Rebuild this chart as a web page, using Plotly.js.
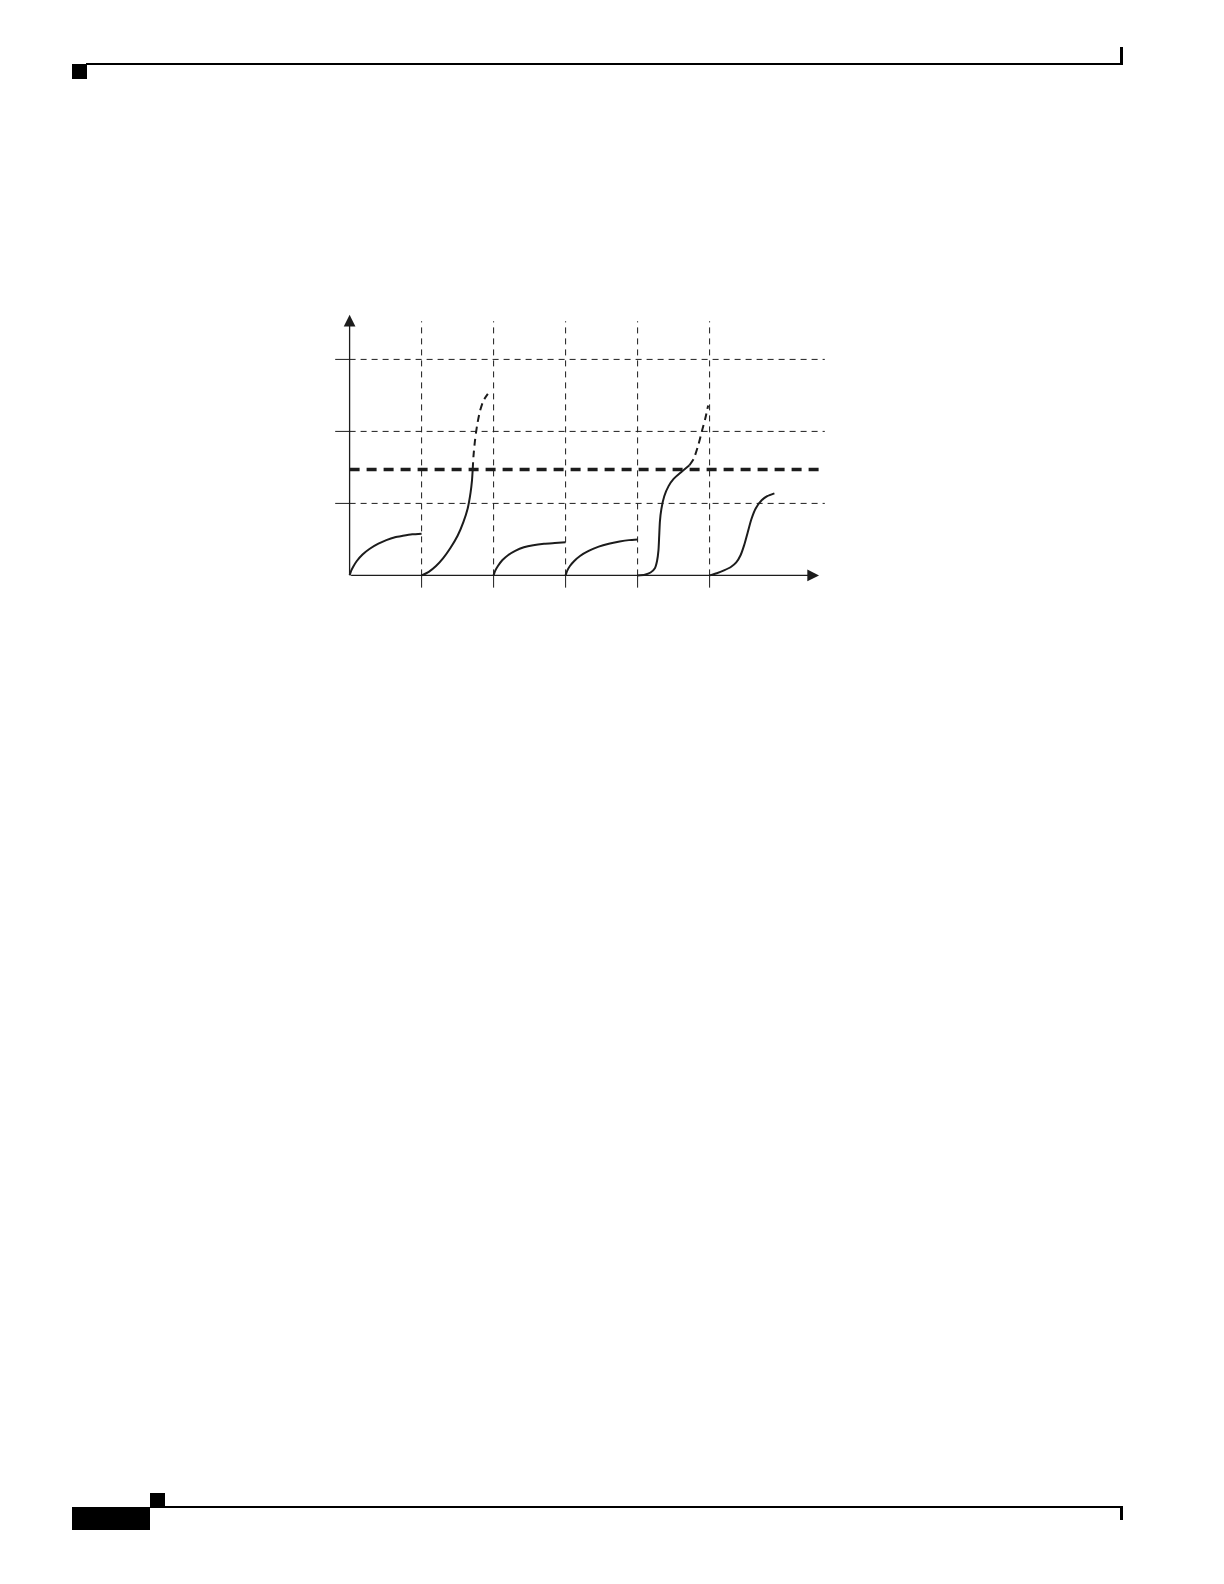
<!DOCTYPE html>
<html>
<head>
<meta charset="utf-8">
<script src="https://cdn.plot.ly/plotly-3.0.1.min.js"></script>
<style>
  body { margin: 0; background: #fff; }
  #chart { position: absolute; left: 0; top: 0; width: 1224px; height: 1584px; }
  .deco { position: absolute; background: #000; }
</style>
</head>
<body>
<div id="chart"></div>
<!-- page header / footer marks -->
<div class="deco" style="left:72px;top:64px;width:15px;height:15px;"></div>
<div class="deco" style="left:86px;top:63px;width:1037px;height:2px;"></div>
<div class="deco" style="left:1120px;top:47px;width:3px;height:18px;"></div>
<div class="deco" style="left:150px;top:1493px;width:15px;height:14px;"></div>
<div class="deco" style="left:72px;top:1507px;width:78px;height:23px;"></div>
<div class="deco" style="left:150px;top:1506px;width:973px;height:2px;"></div>
<div class="deco" style="left:1120px;top:1507px;width:3px;height:13px;"></div>
<script>
// grid positions
let gridX = [1, 2, 3, 4, 5];
let gridY = [1, 2, 3];
let threshold = 1.47;   // thick dashed level

// curves (solid parts and dashed continuations)
let c1x = [0, 0.02, 0.05, 0.1, 0.18, 0.28, 0.4, 0.51, 0.63, 0.74, 0.87, 1.0];
let c1y = [0, 0.06, 0.12, 0.2, 0.29, 0.37, 0.44, 0.49, 0.53, 0.55, 0.57, 0.58];

let c2x = [1.0, 1.1, 1.2, 1.3, 1.4, 1.5, 1.58, 1.64, 1.68, 1.70, 1.71];
let c2y = [0, 0.05, 0.13, 0.24, 0.38, 0.55, 0.74, 0.93, 1.15, 1.32, 1.47];
let c2dx = [1.71, 1.72, 1.74, 1.77, 1.81, 1.86, 1.92];
let c2dy = [1.47, 1.65, 1.86, 2.08, 2.28, 2.43, 2.52];

let c3x = [2, 2.02, 2.06, 2.12, 2.2, 2.3, 2.42, 2.55, 2.7, 2.85, 3.0];
let c3y = [0, 0.06, 0.13, 0.21, 0.28, 0.34, 0.39, 0.42, 0.44, 0.45, 0.46];

let c4x = [3, 3.02, 3.06, 3.12, 3.2, 3.32, 3.46, 3.6, 3.75, 3.88, 4.0];
let c4y = [0, 0.06, 0.13, 0.2, 0.27, 0.34, 0.40, 0.44, 0.47, 0.49, 0.50];

let c5x = [4, 4.1, 4.18, 4.24, 4.27, 4.29, 4.30, 4.31, 4.33, 4.37, 4.43, 4.5, 4.6, 4.72];
let c5y = [0, 0.01, 0.04, 0.1, 0.2, 0.35, 0.55, 0.75, 0.92, 1.1, 1.24, 1.34, 1.43, 1.53];
let c5dx = [4.72, 4.78, 4.84, 4.89, 4.94, 4.98];
let c5dy = [1.53, 1.62, 1.80, 1.99, 2.18, 2.36];

let c6x = [5, 5.1, 5.2, 5.3, 5.37, 5.43, 5.48, 5.53, 5.58, 5.64, 5.72, 5.8, 5.9];
let c6y = [0, 0.03, 0.07, 0.12, 0.18, 0.28, 0.42, 0.60, 0.78, 0.93, 1.04, 1.10, 1.14];

let xMax = 6.6, yTop = 3.53, tickLen = 0.2;

// build grid segments (dashed) and the small solid ticks
let gx = [], gy = [], tx = [], ty = [];
for (let i = 0; i < gridX.length; i++) {
    gx.push(gridX[i], gridX[i], null); gy.push(0, yTop, null);
    tx.push(gridX[i], gridX[i], null); ty.push(-0.17, 0, null);
}
for (let i = 0; i < gridY.length; i++) {
    gx.push(0, xMax, null); gy.push(gridY[i], gridY[i], null);
    tx.push(-tickLen, 0, null); ty.push(gridY[i], gridY[i], null);
}

let ink = "#1c1c1c";
let solid = {color: ink, width: 2, shape: "spline", smoothing: 0.6};
let dashed = {color: ink, width: 2, shape: "spline", smoothing: 0.6, dash: "7px,5px"};

let traces = [
    {x: gx, y: gy, mode: "lines", line: {color: ink, width: 1, dash: "6px,5px"}},
    {x: tx, y: ty, mode: "lines", line: {color: ink, width: 1}},
    {x: [0, 6.56], y: [threshold, threshold], mode: "lines", line: {color: ink, width: 3.5, dash: "10px,7px"}},
    {x: c1x, y: c1y, mode: "lines", line: solid},
    {x: c2x, y: c2y, mode: "lines", line: solid},
    {x: c2dx, y: c2dy, mode: "lines", line: dashed},
    {x: c3x, y: c3y, mode: "lines", line: solid},
    {x: c4x, y: c4y, mode: "lines", line: solid},
    {x: c5x, y: c5y, mode: "lines", line: solid},
    {x: c5dx, y: c5dy, mode: "lines", line: dashed},
    {x: c6x, y: c6y, mode: "lines", line: solid}
];

let arrow = {text: "", showarrow: true, axref: "x", ayref: "y", arrowhead: 2,
             arrowsize: 1.8, arrowwidth: 1.3, arrowcolor: ink};

let layout = {
    width: 1224, height: 1584,
    margin: {l: 328, r: 392, t: 309, b: 987, pad: 0},
    paper_bgcolor: "rgba(0,0,0,0)", plot_bgcolor: "rgba(0,0,0,0)",
    showlegend: false,
    xaxis: {range: [-0.3, 6.7], visible: false, fixedrange: true},
    yaxis: {range: [-0.3, 3.7], visible: false, fixedrange: true},
    annotations: [
        Object.assign({x: 0, y: 3.62, ax: 0, ay: 0}, arrow),
        Object.assign({x: 6.52, y: 0, ax: 0, ay: 0}, arrow)
    ]
};

Plotly.newPlot("chart", traces, layout, {staticPlot: true});
</script>
</body>
</html>
